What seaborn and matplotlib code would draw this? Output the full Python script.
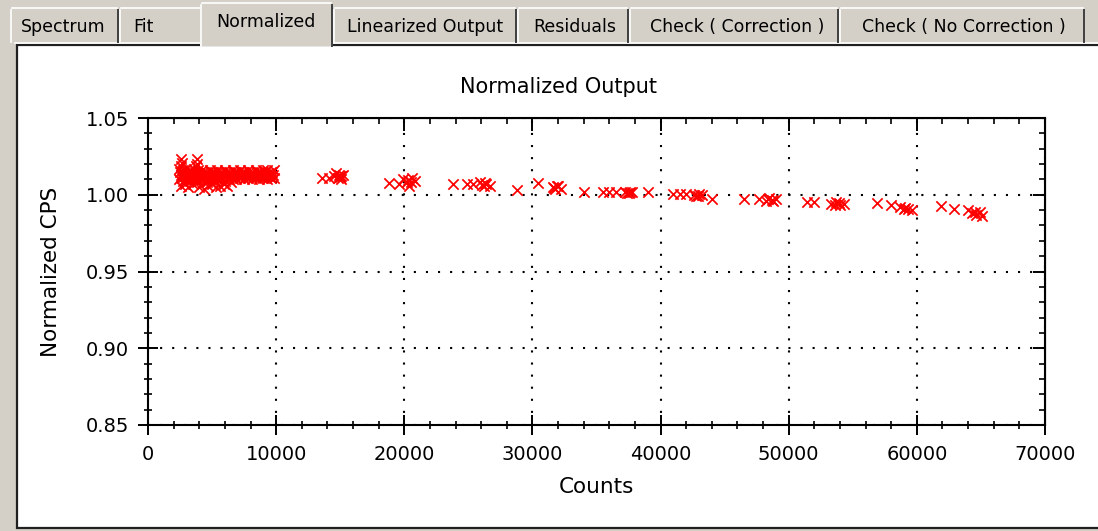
import matplotlib
matplotlib.use("Agg")
import matplotlib.pyplot as plt
import seaborn as sns
import pandas as pd
from matplotlib.patches import Rectangle
from matplotlib.ticker import MultipleLocator

# ---------------- data ----------------
title = "Normalized Output"
x_label = "Counts"
y_label = "Normalized CPS"
tab_labels = ["Spectrum", "Fit", "Normalized", "Linearized Output", "Residuals",
              "Check ( Correction )", "Check ( No Correction )"]
x_ticks = [0, 10000, 20000, 30000, 40000, 50000, 60000, 70000]
y_ticks = [0.85, 0.90, 0.95, 1.00, 1.05]

# dense low-count band
band_counts = [2400, 2700, 3000, 3300, 3600, 3900, 4200, 4500, 4800, 5100, 5400, 5700, 6000,
               6300, 6600, 6900, 7200, 7500, 7800, 8100, 8400, 8700, 9000, 9300, 9600, 9800,
               2550, 2850, 3150, 3450, 3750, 4050, 4350, 4650, 4950, 5250, 5550, 5850, 6150,
               6450, 6750, 7050, 7350, 7650, 7950, 8250, 8550, 8850, 9150, 9450, 9750,
               2400, 2700, 3000, 3300, 3600, 3900, 4200, 4500, 4800, 5100, 5400, 5700, 6000,
               6300, 6600, 6900, 7200, 7500, 7800, 8100, 8400, 8700, 9000, 9300, 9600, 9800,
               2500, 2800, 3100, 3400, 3700, 4000, 4300, 4600, 4900, 5200, 5500, 5800, 6100,
               6400, 6700, 7000, 7300, 7600, 7900, 8200, 8500, 8800, 9100, 9400, 9700,
               2650, 2950, 3250, 3550, 3850, 4150, 4450, 4750, 5050, 5350, 5650, 5950, 6250,
               6550, 6850, 7150, 7450, 7750, 8050, 8350, 8650, 8950, 9250, 9550,
               2600, 2900, 3100, 3500, 3800, 4000, 4400, 4600, 4700, 5000, 5300, 5600, 5900,
               6200, 6500, 2550, 2650, 2600, 3800, 3850, 3750]
band_values = [1.017, 1.016, 1.017, 1.016, 1.017, 1.016, 1.016, 1.015, 1.016, 1.015, 1.016, 1.015, 1.016,
               1.015, 1.016, 1.015, 1.016, 1.015, 1.016, 1.015, 1.016, 1.015, 1.016, 1.016, 1.015, 1.016,
               1.013, 1.012, 1.013, 1.012, 1.013, 1.012, 1.013, 1.012, 1.013, 1.012, 1.013, 1.012, 1.013,
               1.012, 1.013, 1.012, 1.013, 1.012, 1.013, 1.012, 1.013, 1.012, 1.013, 1.012, 1.013,
               1.010, 1.009, 1.010, 1.009, 1.010, 1.009, 1.010, 1.009, 1.010, 1.009, 1.010, 1.010, 1.009,
               1.010, 1.010, 1.010, 1.011, 1.010, 1.011, 1.010, 1.011, 1.010, 1.011, 1.010, 1.011, 1.011,
               1.0145, 1.014, 1.0145, 1.014, 1.0145, 1.014, 1.0145, 1.014, 1.0145, 1.014, 1.0145, 1.014, 1.0145,
               1.014, 1.0145, 1.014, 1.0145, 1.014, 1.0145, 1.014, 1.0145, 1.014, 1.0145, 1.014, 1.0145,
               1.011, 1.0105, 1.011, 1.0105, 1.011, 1.0105, 1.011, 1.0105, 1.011, 1.0105, 1.011, 1.0115, 1.011,
               1.0115, 1.011, 1.0115, 1.012, 1.0115, 1.012, 1.0115, 1.012, 1.0115, 1.012, 1.0115,
               1.006, 1.007, 1.005, 1.007, 1.008, 1.005, 1.004, 1.008, 1.006, 1.007, 1.005, 1.006, 1.007,
               1.006, 1.008, 1.023, 1.021, 1.019, 1.023, 1.020, 1.019]

# higher-count clusters
cluster_counts = [13600, 14100, 14500, 14700, 14800, 14900, 15000, 15100, 15200, 14950, 15050,
                  18800, 19600, 19900, 20200, 20400, 20600, 20800, 20500, 20300,
                  23800, 24900, 25400, 25900, 26200, 26400, 26700, 26100, 26300,
                  28800, 30400, 31600, 31800, 32000, 32200, 31700, 31900,
                  34000, 35500, 36000, 36500, 37200, 37500, 37800, 37400, 37600, 39000,
                  41000, 41500, 42000, 42600, 42900, 43200, 42800, 43000, 44000,
                  46500, 47700, 48200, 48500, 48800, 49000, 48400, 48700,
                  51400, 52000, 53300, 53700, 54000, 54300, 53600, 53900,
                  56900, 58000, 58700, 59000, 59300, 59600, 59100,
                  61900, 62900, 64000, 64300, 64600, 64900, 65100, 64500]
cluster_values = [1.011, 1.011, 1.012, 1.014, 1.011, 1.013, 1.012, 1.010, 1.013, 1.0115, 1.0125,
                  1.0075, 1.007, 1.010, 1.008, 1.006, 1.011, 1.009, 1.0085, 1.0095,
                  1.007, 1.007, 1.007, 1.008, 1.006, 1.007, 1.006, 1.0065, 1.0075,
                  1.003, 1.0075, 1.005, 1.004, 1.006, 1.004, 1.0045, 1.0055,
                  1.002, 1.002, 1.002, 1.002, 1.002, 1.001, 1.0015, 1.0012, 1.0018, 1.002,
                  1.0005, 1.0005, 1.0005, 1.000, 0.999, 1.000, 0.9995, 1.0005, 0.997,
                  0.997, 0.997, 0.996, 0.998, 0.996, 0.997, 0.997, 0.9965,
                  0.9953, 0.9953, 0.994, 0.995, 0.993, 0.994, 0.9935, 0.9945,
                  0.9946, 0.9933, 0.992, 0.991, 0.9905, 0.990, 0.9915,
                  0.9927, 0.9907, 0.990, 0.988, 0.987, 0.989, 0.986, 0.9885]

df = pd.DataFrame({"Counts": band_counts + cluster_counts,
                   "CPS": band_values + cluster_values})

# ---------------- figure ----------------
W, H = 1098, 531
GREY = "#D4D0C8"
fig = plt.figure(figsize=(W / 100, H / 100), dpi=100, facecolor=GREY)
plt.rcParams["font.family"] = ["DejaVu Sans"]

# background (window chrome) in pixel coordinates
bg = fig.add_axes([0, 0, 1, 1], zorder=0)
bg.set_xlim(0, W)
bg.set_ylim(H, 0)
bg.axis("off")
# panel
bg.add_patch(Rectangle((17, 45), W - 17 + 5, 528 - 45, facecolor="white",
                       edgecolor="#202020", linewidth=1.6))
bg.plot([15, W], [43, 43], color="white", lw=1.2)

# tabs: (left, right, label-centre-x)
tabs = [(10, 119, 63), (119, 202, 143), (200, 333, 266), (333, 517, 425),
        (517, 629, 575), (629, 839, 737), (839, 1085, 964)]
for i, ((l, r, cx), lab) in enumerate(zip(tabs, tab_labels)):
    sel = (lab == "Normalized")
    top = 3 if sel else 8
    bottom = 46 if sel else 42
    bg.add_patch(Rectangle((l, top), r - l, bottom - top, facecolor=GREY,
                           edgecolor="none", zorder=3 if sel else 2))
    bg.plot([l + 1, l + 1], [bottom, top + 2], color="white", lw=1.2, zorder=4 if sel else 2.5)
    bg.plot([l + 2, r - 2], [top, top], color="white", lw=1.2, zorder=4 if sel else 2.5)
    bg.plot([r - 1, r - 1], [top + 2, bottom], color="#404040", lw=1.4, zorder=4 if sel else 2.5)
    bg.text(cx, 22 if sel else 27, lab, ha="center", va="center", fontsize=12.5,
            color="black", zorder=5)

# main axes
L, R, T, B = 148, 1045, 118, 425
ax = fig.add_axes([L / W, 1 - B / H, (R - L) / W, (B - T) / H], zorder=2)
ax.set_facecolor("white")

sns.scatterplot(data=df, x="Counts", y="CPS", marker="x", color="#FF0000",
                s=55, linewidth=1.25, ax=ax, zorder=3, legend=False)

ax.set_xlim(0, 70000)
ax.set_ylim(0.85, 1.05)
ax.set_xticks(x_ticks)
ax.set_yticks(y_ticks)
ax.set_xticklabels([str(v) for v in x_ticks])
ax.set_yticklabels([f"{v:.2f}" for v in y_ticks])
ax.xaxis.set_minor_locator(MultipleLocator(2000))
ax.yaxis.set_minor_locator(MultipleLocator(0.01))

for s in ax.spines.values():
    s.set_linewidth(1.5)
    s.set_color("black")

ax.tick_params(which="major", direction="inout", length=15, width=1.4,
               labelsize=14, colors="black", pad=6)
ax.tick_params(which="minor", direction="inout", length=6, width=1.2)
ax.tick_params(axis="x", which="major", pad=7)

ax.grid(which="major", color="black", linestyle=(0, (1, 4.8)), linewidth=1.5)
ax.set_axisbelow(True)

# top / right inward ticks
secx = ax.secondary_xaxis("top")
secx.set_xticks(x_ticks)
secx.xaxis.set_minor_locator(MultipleLocator(2000))
secx.tick_params(which="major", direction="in", length=9, width=1.4, labeltop=False)
secx.tick_params(which="minor", direction="in", length=4, width=1.2)
secy = ax.secondary_yaxis("right")
secy.set_yticks(y_ticks)
secy.yaxis.set_minor_locator(MultipleLocator(0.01))
secy.tick_params(which="major", direction="in", length=9, width=1.4, labelright=False)
secy.tick_params(which="minor", direction="in", length=4, width=1.2)

ax.set_title(title, fontsize=15, pad=18, x=0.458)
ax.set_xlabel(x_label, fontsize=15.5, labelpad=9)
ax.set_ylabel(y_label, fontsize=15.5, labelpad=18)

fig.savefig("out.png", dpi=100, facecolor=GREY)
